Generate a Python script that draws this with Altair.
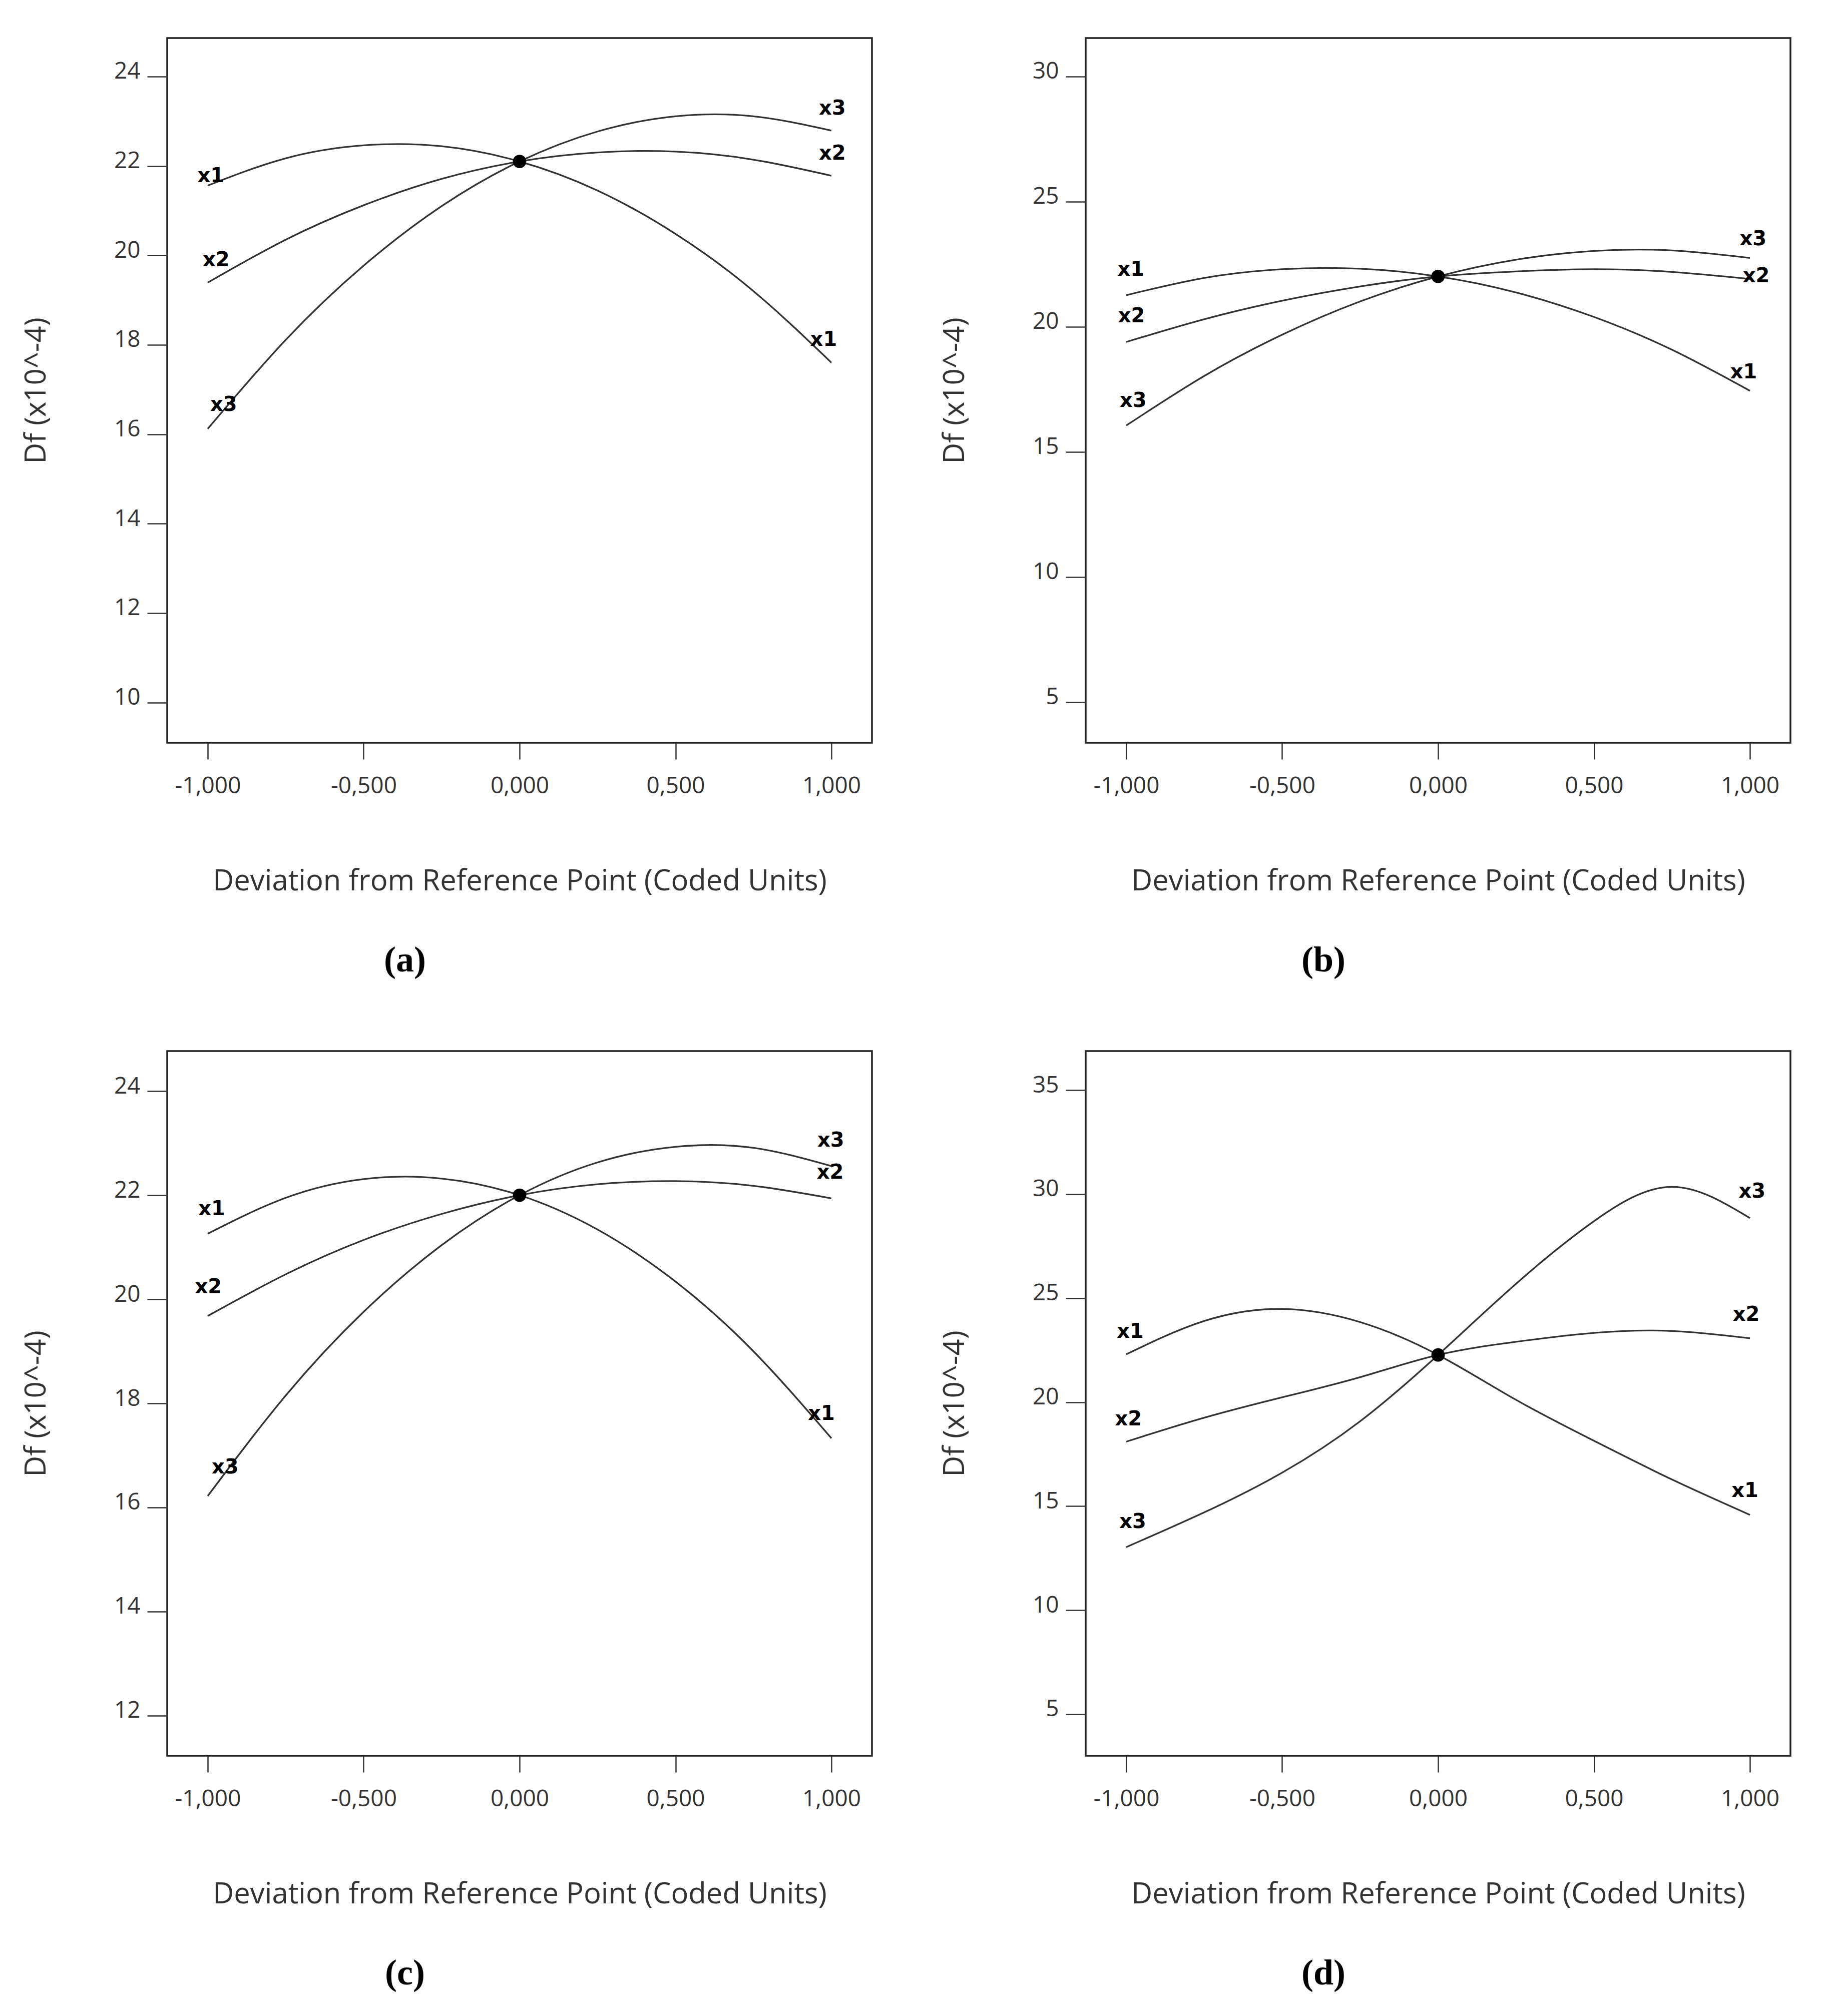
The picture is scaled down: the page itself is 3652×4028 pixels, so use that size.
import altair as alt
import pandas as pd

xs = [-1.0, -0.75, -0.5, -0.25, 0.0, 0.25, 0.5, 0.75, 1.0]

# panel (a)
a_x1 = [21.56, 22.17, 22.46, 22.44, 22.10, 21.45, 20.48, 19.20, 17.60]
a_x2 = [19.39, 20.35, 21.12, 21.71, 22.10, 22.30, 22.32, 22.14, 21.78]
a_x3 = [16.12, 18.11, 19.77, 21.10, 22.10, 22.77, 23.11, 23.11, 22.79]
# panel (b)
b_x1 = [21.26, 21.95, 22.30, 22.32, 22.01, 21.37, 20.39, 19.08, 17.44]
b_x2 = [19.39, 20.30, 21.04, 21.61, 22.01, 22.21, 22.30, 22.19, 21.91]
b_x3 = [16.05, 18.03, 19.68, 21.01, 22.01, 22.68, 23.03, 23.05, 22.75]
# panel (c)
c_x1 = [21.26, 21.95, 22.31, 22.32, 22.00, 21.34, 20.34, 19.00, 17.33]
c_x2 = [19.68, 20.48, 21.14, 21.64, 22.00, 22.21, 22.27, 22.18, 21.94]
c_x3 = [16.22, 18.15, 19.76, 21.04, 22.00, 22.63, 22.93, 22.91, 22.56]
# panel (d)
d_x1 = [22.30, 23.90, 24.48, 23.85, 22.27, 20.11, 18.14, 16.28, 14.58]
d_x2 = [18.10, 19.25, 20.23, 21.20, 22.27, 22.90, 23.33, 23.42, 23.07]
d_x3 = [13.03, 14.70, 16.61, 19.08, 22.27, 25.69, 28.70, 30.35, 28.85]

# reference (centre) points
centers = {"a": 22.10, "b": 22.01, "c": 22.00, "d": 22.27}

# curve labels
lab_text = ["x1", "x2", "x3", "x3", "x2", "x1"]
a_lab_x = [-0.990, -0.973, -0.949, 1.003, 1.003, 0.975]
a_lab_y = [21.77, 19.89, 16.65, 23.28, 22.27, 18.11]
b_lab_x = [-0.985, -0.983, -0.978, 1.010, 1.020, 0.980]
b_lab_y = [22.27, 20.42, 17.03, 23.50, 22.01, 18.18]
c_lab_x = [-0.987, -0.998, -0.944, 0.998, 0.996, 0.968]
c_lab_y = [21.73, 20.23, 16.77, 23.05, 22.43, 17.80]
d_lab_x = [-0.987, -0.993, -0.979, 1.007, 0.988, 0.984]
d_lab_y = [23.38, 19.18, 14.24, 30.12, 24.19, 15.72]

x_ticks = [-1.0, -0.5, 0.0, 0.5, 1.0]
a_yticks = [10, 12, 14, 16, 18, 20, 22, 24]
b_yticks = [5, 10, 15, 20, 25, 30]
c_yticks = [12, 14, 16, 18, 20, 22, 24]
d_yticks = [5, 10, 15, 20, 25, 30, 35]

a_ydom = [9.10, 24.86]
b_ydom = [3.37, 31.54]
c_ydom = [11.23, 24.77]
d_ydom = [3.00, 36.88]

x_title = "Deviation from Reference Point (Coded Units)"
y_title = "Df (x10^-4)"

FONT = "Open Sans"
INK = "#333333"


def panel(series, center, lab_x, lab_y, ydom, yticks, caption):
    rows = []
    for sname, vals in series:
        for xv, yv in zip(xs, vals):
            rows.append({"x": xv, "y": yv, "s": sname})
    df = pd.DataFrame(rows)

    xscale = alt.Scale(domain=[-1.13, 1.13], nice=False, zero=False)
    yscale = alt.Scale(domain=ydom, nice=False, zero=False)

    xaxis = alt.Axis(
        values=x_ticks,
        labelExpr="(datum.value < 0 ? '-' : '') + replace(format(abs(datum.value), '.3f'), '.', ',')",
        title=x_title,
        grid=False, domain=False,
        tickSize=33, tickWidth=2.5, tickColor=INK,
        labelFont=FONT, labelFontSize=46, labelColor=INK, labelPadding=31,
        labelFlush=False,
        titleFont=FONT, titleFontSize=58, titleFontWeight="normal",
        titleColor=INK, titlePadding=139,
    )
    yaxis = alt.Axis(
        values=yticks, format="d",
        title=y_title,
        grid=False, domain=False,
        tickSize=40, tickWidth=2.5, tickColor=INK,
        labelFont=FONT, labelFontSize=46, labelColor=INK, labelPadding=14,
        labelOffset=-10, labelFlush=False,
        titleFont=FONT, titleFontSize=58, titleFontWeight="normal",
        titleColor=INK, titlePadding=125,
    )

    lines = alt.Chart(df).mark_line(
        interpolate="natural", color="#333333", strokeWidth=3.3
    ).encode(
        x=alt.X("x:Q", scale=xscale, axis=xaxis),
        y=alt.Y("y:Q", scale=yscale, axis=yaxis),
        detail="s:N",
    )
    pt = alt.Chart(pd.DataFrame({"x": [0.0], "y": [center]})).mark_circle(
        size=720, color="black", opacity=1
    ).encode(x=alt.X("x:Q", scale=xscale), y=alt.Y("y:Q", scale=yscale))
    labs = alt.Chart(
        pd.DataFrame({"x": lab_x, "y": lab_y, "t": lab_text})
    ).mark_text(
        font="DejaVu Sans", fontWeight="bold", fontSize=40, color="black",
        align="center", baseline="middle",
    ).encode(
        x=alt.X("x:Q", scale=xscale), y=alt.Y("y:Q", scale=yscale), text="t:N"
    )
    return alt.layer(lines, pt, labs).properties(
        width=1408, height=1408,
        title=alt.TitleParams(
            caption, orient="bottom", anchor="middle", frame="group",
            dx=-229, offset=94, font="Liberation Serif", fontSize=72,
            fontWeight="bold", color="black",
        ),
    )


pa = panel([("x1", a_x1), ("x2", a_x2), ("x3", a_x3)], centers["a"],
           a_lab_x, a_lab_y, a_ydom, a_yticks, "(a)")
pb = panel([("x1", b_x1), ("x2", b_x2), ("x3", b_x3)], centers["b"],
           b_lab_x, b_lab_y, b_ydom, b_yticks, "(b)")
pc = panel([("x1", c_x1), ("x2", c_x2), ("x3", c_x3)], centers["c"],
           c_lab_x, c_lab_y, c_ydom, c_yticks, "(c)")
pd_ = panel([("x1", d_x1), ("x2", d_x2), ("x3", d_x3)], centers["d"],
            d_lab_x, d_lab_y, d_ydom, d_yticks, "(d)")

chart = alt.vconcat(
    alt.hconcat(pa, pb, spacing=133),
    alt.hconcat(pc, pd_, spacing=133),
    spacing=141,
).properties(
    padding={"left": 34, "top": 66, "right": 10, "bottom": 10},
    background="white",
).configure_view(
    stroke="#222222", strokeWidth=3.5
)

chart.save("out.html", embed_options={"renderer": "svg", "actions": False})
